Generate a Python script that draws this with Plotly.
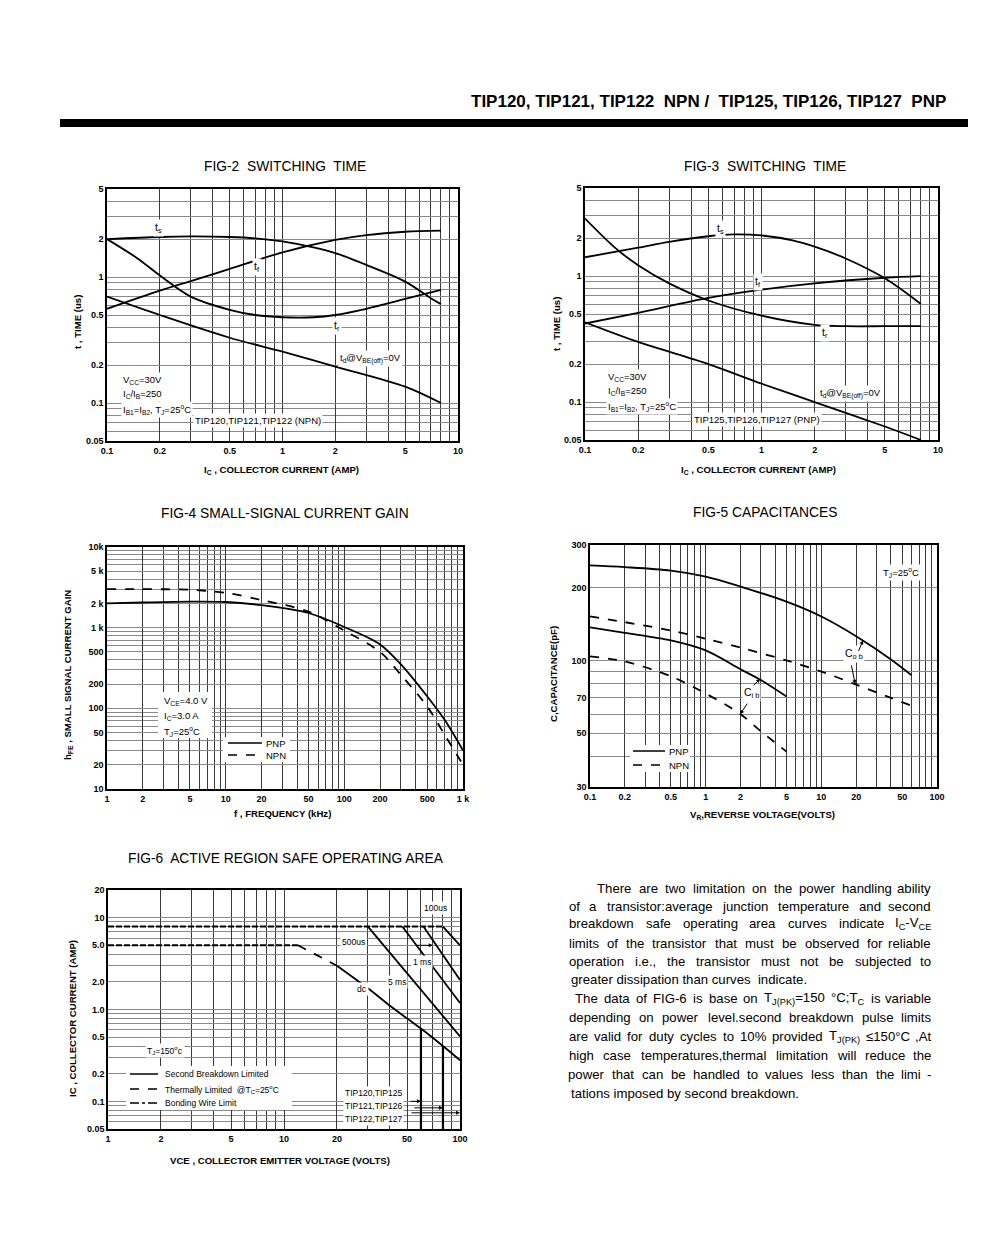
import math
import re
import plotly.graph_objects as go

# page offset: the browser body has an 8px margin, so the figure is drawn
# 8px in from the window edge; map reference pixel coords accordingly
OFF = 8
W, H = 1000 - OFF, 1250 - OFF
FONT = "Liberation Sans, Arial, Helvetica, sans-serif"

def X(px): return (px - OFF) / W
def Y(py): return 1 - (py - OFF) / H
def L(v): return math.log10(v)

# ---------------- FIG-2 data (NPN switching time) ----------------
f2_ts_ic = [0.1, 0.2, 0.3, 0.5, 0.7, 1, 1.5, 2, 3, 5, 7, 8]
f2_ts = [2.0, 2.08, 2.1, 2.08, 2.03, 1.92, 1.72, 1.55, 1.25, 0.92, 0.68, 0.61]
f2_tf_ic = [0.1, 0.2, 0.3, 0.5, 1, 2, 3, 5, 8]
f2_tf = [0.56, 0.78, 0.93, 1.16, 1.57, 1.97, 2.15, 2.29, 2.34]
f2_tr_ic = [0.1, 0.15, 0.2, 0.3, 0.5, 0.7, 1, 1.5, 2, 3, 5, 8]
f2_tr = [2.0, 1.4, 1.03, 0.70, 0.55, 0.50, 0.48, 0.48, 0.50, 0.56, 0.67, 0.79]
f2_td_ic = [0.1, 0.2, 0.5, 1, 2, 5, 8]
f2_td = [0.70, 0.50, 0.33, 0.256, 0.195, 0.135, 0.10]

# ---------------- FIG-3 data (PNP switching time) ----------------
f3_ts_ic = [0.1, 0.2, 0.3, 0.5, 0.7, 1, 1.5, 2, 3, 5, 8]
f3_ts = [1.41, 1.68, 1.87, 2.07, 2.14, 2.1, 1.92, 1.71, 1.38, 0.96, 0.60]
f3_tf_ic = [0.1, 0.2, 0.5, 1, 2, 5, 8]
f3_tf = [0.42, 0.51, 0.67, 0.78, 0.875, 0.97, 1.0]
f3_tr_ic = [0.1, 0.15, 0.2, 0.3, 0.5, 1, 2, 3, 5, 8]
f3_tr = [2.86, 1.65, 1.22, 0.875, 0.64, 0.485, 0.41, 0.40, 0.40, 0.40]
f3_td_ic = [0.1, 0.2, 0.5, 1, 2, 5, 8]
f3_td = [0.43, 0.30, 0.20, 0.14, 0.10, 0.064, 0.05]

# ---------------- FIG-4 data (small-signal current gain) ----------------
f4_freq = [1, 2, 5, 10, 20, 50, 100, 200, 300, 500, 700, 1000]
f4_pnp = [2000, 2050, 2100, 2080, 1900, 1520, 1020, 620, 350, 140, 72, 30]
f4_npn = [3000, 3000, 2950, 2700, 2200, 1580, 920, 500, 260, 105, 47, 20]

# ---------------- FIG-5 data (capacitances) ----------------
f5_vr = [0.1, 0.2, 0.5, 1, 2, 5, 10, 20, 40, 60]
f5_cob_pnp = [247, 243, 235, 222, 202, 175, 152, 126, 101, 87]
f5_cob_npn = [152, 144, 133, 123, 113, 100, 90, 79.5, 70, 65]
f5_cib_vr = [0.1, 0.2, 0.5, 1, 2, 3, 5]
f5_cib_pnp = [137, 130, 121, 110, 92, 83, 71]
f5_cib_npn = [104, 99, 86, 73, 60, 51, 42]

# ---------------- FIG-6 data (safe operating area) ----------------
f6_bw_dc_v = [1, 12]
f6_bw_dc_i = [5.0, 5.0]
f6_bw_pulse_v = [1, 80]
f6_bw_pulse_i = [8.0, 8.0]
f6_th_v = [12, 20]
f6_th_i = [5.0, 3.0]
f6_dc_v = [20, 30, 40, 50, 60, 80, 100]
f6_dc_i = [3.0, 1.70, 1.10, 0.80, 0.62, 0.40, 0.28]
f6_5ms_v = [30, 100]
f6_5ms_i = [8.0, 0.51]
f6_1ms_v = [47, 100]
f6_1ms_i = [8.0, 1.18]
f6_500us_v = [62, 100]
f6_500us_i = [8.0, 2.1]
f6_100us_v = [80, 100]
f6_100us_i = [8.0, 5.0]
f6_vceo_v = [60, 80]
f6_vceo_top = [0.62, 0.40]

# ---------------- tick labels ----------------
f2_xlabels = {0.1: "0.1", 0.2: "0.2", 0.5: "0.5", 1: "1", 2: "2", 5: "5", 10: "10"}
f2_ylabels = {0.05: "0.05", 0.1: "0.1", 0.2: "0.2", 0.5: "0.5", 1: "1", 2: "2", 5: "5"}
f4_xlabels = {1: "1", 2: "2", 5: "5", 10: "10", 20: "20", 50: "50", 100: "100",
              200: "200", 500: "500", 1000: "1 k"}
f4_ylabels = {10: "10", 20: "20", 50: "50", 100: "100", 200: "200", 500: "500",
              1000: "1 k", 2000: "2 k", 5000: "5 k", 10000: "10k"}
f5_xlabels = {0.1: "0.1", 0.2: "0.2", 0.5: "0.5", 1: "1", 2: "2", 5: "5",
              10: "10", 20: "20", 50: "50", 100: "100"}
f5_ylabels = {30: "30", 50: "50", 70: "70", 100: "100", 200: "200", 300: "300"}
f6_xlabels = {1: "1", 2: "2", 5: "5", 10: "10", 20: "20", 50: "50", 100: "100"}
f6_ylabels = {0.05: "0.05", 0.1: "0.1", 0.2: "0.2", 0.5: "0.5", 1: "1.0", 2: "2.0",
              5: "5.0", 10: "10", 20: "20"}


def grid_vals(lo, hi):
    vals = []
    e = math.floor(L(lo)) - 1
    while 10 ** e <= hi * 1.0001:
        for m in range(1, 10):
            v = round(m * 10 ** e, 6)
            if lo * 0.9999 <= v <= hi * 1.0001:
                vals.append(v)
        e += 1
    return vals


def make_axis(lo, hi, labels, domain, anchor, gridcolor):
    lab = {round(k, 6): t for k, t in labels.items()}
    major = sorted(lab.keys())
    minor = [v for v in grid_vals(lo, hi) if v not in lab]
    return dict(type="log", range=[L(lo), L(hi)], domain=domain, anchor=anchor,
                tickmode="array", tickvals=major, ticktext=[lab[v] for v in major],
                showgrid=True, gridcolor=gridcolor, gridwidth=1, zeroline=False,
                minor=dict(tickmode="array", tickvals=minor, showgrid=True,
                           gridcolor=gridcolor, gridwidth=1, ticks=""),
                showline=True, mirror=True, linecolor="black", linewidth=1.5,
                ticks="", fixedrange=True, automargin=False,
                tickfont=dict(family=FONT, size=9, color="black", weight="bold"))

VG = "#3a3a3a"   # vertical grid
HG = "#8a8a8a"   # horizontal grid

fig = go.Figure()

def curve(x, y, ax, dash="solid", width=1.8, smooth=True):
    fig.add_trace(go.Scatter(
        x=x, y=y, xaxis="x" + ax, yaxis="y" + ax, mode="lines",
        line=dict(color="black", width=width, dash=dash,
                  shape="spline" if smooth else "linear", smoothing=0.9),
        showlegend=False, hoverinfo="skip"))

# FIG-2
curve(f2_ts_ic, f2_ts, "")
curve(f2_tf_ic, f2_tf, "")
curve(f2_tr_ic, f2_tr, "")
curve(f2_td_ic, f2_td, "")
# FIG-3
curve(f3_ts_ic, f3_ts, "2")
curve(f3_tf_ic, f3_tf, "2")
curve(f3_tr_ic, f3_tr, "2")
curve(f3_td_ic, f3_td, "2")
# FIG-4
curve(f4_freq, f4_pnp, "3")
curve(f4_freq, f4_npn, "3", dash="dash")
# FIG-5
curve(f5_vr, f5_cob_pnp, "4")
curve(f5_vr, f5_cob_npn, "4", dash="dash")
curve(f5_cib_vr, f5_cib_pnp, "4")
curve(f5_cib_vr, f5_cib_npn, "4", dash="dash")
# FIG-6
curve(f6_bw_dc_v, f6_bw_dc_i, "5", dash="6px,2px", width=2, smooth=False)
curve(f6_bw_pulse_v, f6_bw_pulse_i, "5", dash="6px,2px", width=2, smooth=False)
curve(f6_th_v, f6_th_i, "5", dash="dash", smooth=False)
curve(f6_dc_v, f6_dc_i, "5")
curve(f6_5ms_v, f6_5ms_i, "5", smooth=False)
curve(f6_1ms_v, f6_1ms_i, "5", smooth=False)
curve(f6_500us_v, f6_500us_i, "5", smooth=False)
curve(f6_100us_v, f6_100us_i, "5", smooth=False)
for v, top in zip(f6_vceo_v, f6_vceo_top):
    curve([v, v], [0.05, top], "5", width=2.2, smooth=False)

layout = dict(
    width=W, height=H, margin=dict(l=0, r=0, t=0, b=0, pad=0, autoexpand=False),
    paper_bgcolor="white", plot_bgcolor="white", showlegend=False,
    font=dict(family=FONT, color="black"),
    xaxis=make_axis(0.1, 10, f2_xlabels, [X(107), X(458)], "y", VG),
    yaxis=make_axis(0.05, 5, f2_ylabels, [Y(441), Y(189)], "x", HG),
    xaxis2=make_axis(0.1, 10, f2_xlabels, [X(585), X(938)], "y2", VG),
    yaxis2=make_axis(0.05, 5, f2_ylabels, [Y(440), Y(188)], "x2", HG),
    xaxis3=make_axis(1, 1000, f4_xlabels, [X(107), X(463)], "y3", VG),
    yaxis3=make_axis(10, 10000, f4_ylabels, [Y(789), Y(547)], "x3", HG),
    xaxis4=make_axis(0.1, 100, f5_xlabels, [X(590), X(937)], "y4", VG),
    yaxis4=make_axis(30, 300, f5_ylabels, [Y(787), Y(545)], "x4", HG),
    xaxis5=make_axis(1, 100, f6_xlabels, [X(108), X(460)], "y5", VG),
    yaxis5=make_axis(0.05, 20, f6_ylabels, [Y(1129), Y(890)], "x5", HG),
)

shapes = []
annotations = []

def ann(text, px, py, size=9, bold=False, xanchor="center", bg=None, angle=0,
        yanchor="middle"):
    d = dict(text=text, x=X(px), y=Y(py), xref="paper", yref="paper",
             showarrow=False, xanchor=xanchor, yanchor=yanchor, textangle=angle,
             font=dict(family=FONT, size=size, color="black",
                       weight="bold" if bold else "normal"))
    if bg:
        d["bgcolor"] = bg
        d["borderpad"] = 1
    annotations.append(d)

def arrow(ax_name, xv, yv, dx, dy):
    annotations.append(dict(text="", x=L(xv), y=L(yv), xref="x" + ax_name,
                            yref="y" + ax_name, showarrow=True, ax=dx, ay=dy,
                            arrowhead=2, arrowsize=0.8, arrowwidth=1,
                            arrowcolor="black"))

def pline(x0, x1, py, dash="solid", width=1.5):
    shapes.append(dict(type="line", xref="paper", yref="paper", x0=X(x0), x1=X(x1),
                       y0=Y(py), y1=Y(py), line=dict(color="black", width=width, dash=dash),
                       layer="above"))

def prect(x0, y0, x1, y1):
    shapes.append(dict(type="rect", xref="paper", yref="paper", x0=X(x0), x1=X(x1),
                       y0=Y(y1), y1=Y(y0), fillcolor="white", line=dict(width=0),
                       layer="above"))

# header
ann("TIP120, TIP121, TIP122  NPN /  TIP125, TIP126, TIP127  PNP", 948, 101, size=17,
    bold=True, xanchor="right")
shapes.append(dict(type="rect", xref="paper", yref="paper", x0=X(60), x1=X(968),
                   y0=Y(127), y1=Y(119), fillcolor="black", line=dict(width=0)))

# titles
ann("FIG-2  SWITCHING  TIME", 285, 166, size=13.8)
ann("FIG-3  SWITCHING  TIME", 765, 166, size=13.8)
ann("FIG-4 SMALL-SIGNAL CURRENT GAIN", 285, 513, size=13.8)
ann("FIG-5 CAPACITANCES", 765, 512, size=13.8)
ann("FIG-6  ACTIVE REGION SAFE OPERATING AREA", 286, 858, size=13.8)

# axis titles
ann("I<sub>C</sub> , COLLECTOR CURRENT (AMP)", 281, 470, size=9.6, bold=True)
ann("t , TIME (us)", 77, 322, size=9.6, bold=True, angle=-90)
ann("I<sub>C</sub> , COLLECTOR CURRENT (AMP)", 758, 470, size=9.6, bold=True)
ann("t , TIME (us)", 556, 324, size=9.6, bold=True, angle=-90)
ann("f , FREQUENCY (kHz)", 282, 813, size=9.6, bold=True)
ann("h<sub>FE</sub> , SMALL SIGNAL CURRENT GAIN", 68, 675, size=9.6, bold=True, angle=-90)
ann("V<sub>R</sub>,REVERSE VOLTAGE(VOLTS)", 762, 815, size=9.6, bold=True)
ann("C,CAPACITANCE(pF)", 553, 674, size=9.6, bold=True, angle=-90)
ann("VCE , COLLECTOR EMITTER VOLTAGE (VOLTS)", 280, 1160, size=9.6, bold=True)
ann("IC , COLLECTOR CURRENT (AMP)", 73, 1019, size=9.6, bold=True, angle=-90)

# FIG-2 labels
ann("t<sub>s</sub>", 158, 228, size=10.5, bg="white")
ann("t<sub>f</sub>", 257, 267, size=10.5, bg="white")
ann("t<sub>r</sub>", 337, 326, size=10.5, bg="white")
ann("t<sub>d</sub>@V<sub>BE(off)</sub>=0V", 338, 359, size=9.5, xanchor="left", bg="white")
ann("V<sub>CC</sub>=30V", 121, 380, size=9.5, xanchor="left", bg="white")
ann("I<sub>C</sub>/I<sub>B</sub>=250", 121, 394, size=9.5, xanchor="left", bg="white")
ann("I<sub>B1</sub>=I<sub>B2</sub>, T<sub>J</sub>=25<sup>o</sup>C", 121, 409, size=9.5,
    xanchor="left", bg="white")
ann("TIP120,TIP121,TIP122 (NPN)", 193, 421, size=9.5, xanchor="left", bg="white")

# FIG-3 labels
ann("t<sub>s</sub>", 720, 229, size=10.5, bg="white")
ann("t<sub>f</sub>", 758, 282, size=10.5, bg="white")
ann("t<sub>r</sub>", 825, 333, size=10.5, bg="white")
ann("t<sub>d</sub>@V<sub>BE(off)</sub>=0V", 818, 393, size=9.5, xanchor="left", bg="white")
ann("V<sub>CC</sub>=30V", 606, 377, size=9.5, xanchor="left", bg="white")
ann("I<sub>C</sub>/I<sub>B</sub>=250", 606, 391, size=9.5, xanchor="left", bg="white")
ann("I<sub>B1</sub>=I<sub>B2</sub>, T<sub>J</sub>=25<sup>o</sup>C", 606, 406, size=9.5,
    xanchor="left", bg="white")
ann("TIP125,TIP126,TIP127 (PNP)", 692, 420, size=9.5, xanchor="left", bg="white")

# FIG-4 labels
prect(158, 692, 212, 738)
ann("V<sub>CE</sub>=4.0 V", 162, 701, size=9.5, xanchor="left")
ann("I<sub>C</sub>=3.0 A", 162, 716, size=9.5, xanchor="left")
ann("T<sub>J</sub>=25<sup>o</sup>C", 162, 731, size=9.5, xanchor="left")
prect(223, 737, 290, 762)
pline(228, 262, 743)
pline(228, 262, 755, dash="dash")
ann("PNP", 264, 743, size=9.5, xanchor="left")
ann("NPN", 264, 755, size=9.5, xanchor="left")

# FIG-5 labels
ann("T<sub>J</sub>=25<sup>o</sup>C", 901, 572, size=9.5, bg="white")
ann("C<sub>o b</sub>", 854, 654, size=10.5, bg="white")
ann("C<sub>i b</sub>", 751, 693, size=10.5, bg="white")
arrow("4", 22.9, 121, -5, 12)
arrow("4", 19.6, 80, -4, -20)
arrow("4", 2.96, 84, -8, 8)
arrow("4", 1.99, 60, 8, -12)
prect(630, 745, 690, 772)
pline(633, 665, 751)
pline(633, 665, 765, dash="dash")
ann("PNP", 667, 751, size=9.5, xanchor="left")
ann("NPN", 667, 765, size=9.5, xanchor="left")

# FIG-6 labels
ann("100us", 435, 908, size=8.5, bg="white")
ann("500us", 353, 942, size=8.5, bg="white")
arrow("5", 70, 5.0, -18, 0)
ann("1 ms", 422, 962, size=8.5, bg="white")
ann("5 ms", 397, 982, size=8.5, bg="white")
ann("dc", 362, 989, size=8.5, bg="white")
ann("T<sub>J</sub>=150<sup>o</sup>c", 145, 1050, size=8.5, xanchor="left", bg="white")
prect(126, 1066, 292, 1110)
pline(130, 158, 1074)
pline(130, 158, 1089, dash="dash")
pline(130, 158, 1103, dash="dashdot")
ann("Second Breakdown Limited", 163, 1074, size=8.5, xanchor="left")
ann("Thermally Limited  @T<sub>C</sub>=25<sup>o</sup>C", 163, 1089, size=8.5, xanchor="left")
ann("Bonding Wire Limit", 163, 1103, size=8.5, xanchor="left")
ann("TIP120,TIP125", 343, 1093, size=8.5, xanchor="left", bg="white")
ann("TIP121,TIP126", 343, 1106, size=8.5, xanchor="left", bg="white")
ann("TIP122,TIP127", 343, 1119, size=8.5, xanchor="left", bg="white")
arrow("5", 60, 0.1, -12, 0)
arrow("5", 80, 0.085, -30, 0)
arrow("5", 100, 0.075, -50, 0)

# ---------------- paragraph (justified) ----------------
AW = {" ": 278, ".": 278, ",": 278, ":": 278, ";": 278, "-": 333, "(": 333, ")": 333,
      "=": 584, "%": 889, "°": 400, "≤": 549, "/": 278}
for ch, w in zip("abcdefghijklmnopqrstuvwxyz",
                 [556, 556, 500, 556, 556, 278, 556, 556, 222, 222, 500, 222, 833, 556,
                  556, 556, 556, 333, 500, 278, 556, 500, 722, 500, 500, 500]):
    AW[ch] = w
for ch, w in zip("ABCDEFGHIJKLMNOPQRSTUVWXYZ",
                 [667, 667, 722, 722, 667, 611, 778, 722, 278, 500, 667, 556, 833, 722,
                  778, 667, 778, 722, 667, 611, 722, 667, 944, 667, 667, 611]):
    AW[ch] = w
for ch in "0123456789":
    AW[ch] = 556

def text_w(s, size):
    total = 0.0
    scale = 1.0
    for part in re.split(r"(</?su[bp]>)", s):
        if part in ("<sub>", "<sup>"):
            scale = 0.7
        elif part in ("</sub>", "</sup>"):
            scale = 1.0
        else:
            total += sum(AW.get(c, 556) for c in part) * size * scale / 1000
    return total

PSIZE = 13.2
RIGHT = 933
para_lines = [
    (597, 888, "There are two limitation on the power handling ability", True),
    (569, 906, "of a transistor:average junction temperature and second", True),
    (569, 924, "breakdown safe operating area curves indicate I<sub>C</sub>-V<sub>CE</sub>", True),
    (569, 943, "limits of the transistor that must be observed for reliable", True),
    (569, 961, "operation i.e., the transistor must not be subjected to", True),
    (569, 979, "greater dissipation than curves  indicate.", False),
    (575, 998, "The data of FIG-6 is base on T<sub>J(PK)</sub>=150 °C;T<sub>C</sub> is variable", True),
    (569, 1017, "depending on power level.second breakdown pulse limits", True),
    (569, 1036, "are valid for duty cycles to 10% provided T<sub>J(PK)</sub> ≤150°C ,At", True),
    (569, 1055, "high case temperatures,thermal limitation will reduce the", True),
    (569, 1074, "power that can be handled to values less than the limi -", True),
    (569, 1093, "tations imposed by second breakdown.", False),
]
for px, py, t, justify in para_lines:
    if not justify:
        ann(t, px, py, size=PSIZE, xanchor="left")
        continue
    words = t.split(" ")
    ws = [text_w(w, PSIZE) for w in words]
    gap = (RIGHT - px - sum(ws)) / (len(words) - 1)
    x = px
    for i, (w, wd) in enumerate(zip(words, ws)):
        if i == len(words) - 1:
            ann(w, RIGHT, py, size=PSIZE, xanchor="right")
        else:
            ann(w, x + wd / 2, py, size=PSIZE, xanchor="center")
        x += wd + gap

layout["shapes"] = shapes
layout["annotations"] = annotations
fig.update_layout(**layout)
fig.write_html("out.html")
